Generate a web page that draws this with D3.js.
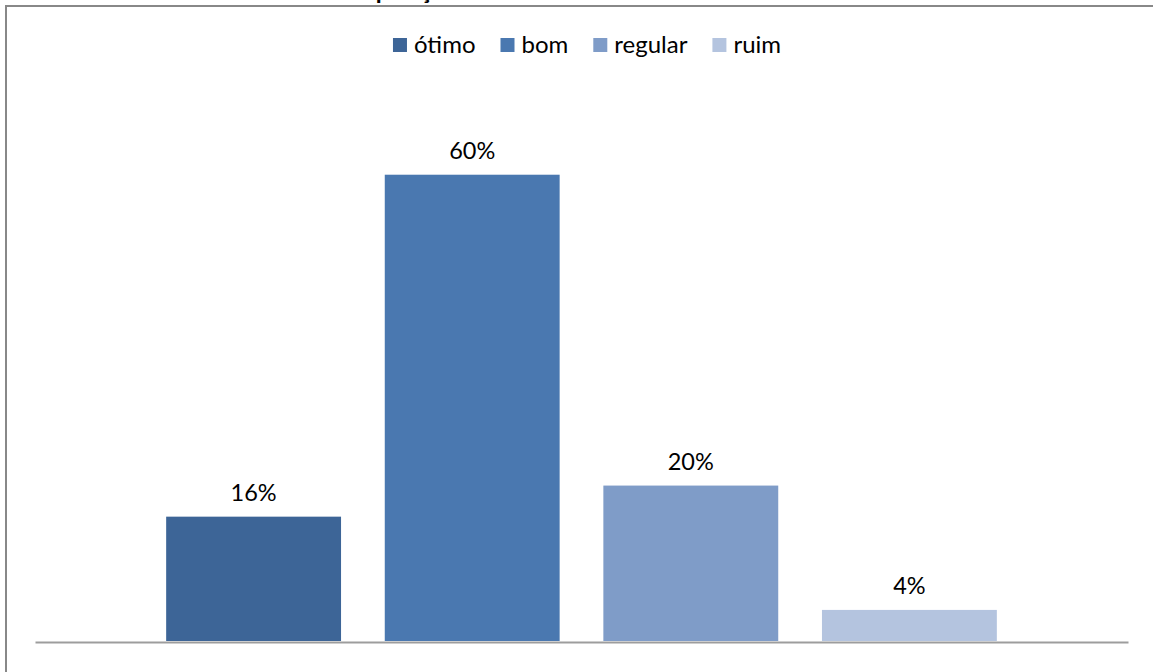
<!DOCTYPE html>
<html>
<head>
<meta charset="utf-8">
<script src="https://cdn.jsdelivr.net/npm/d3@7"></script>
<style>
  html, body { margin: 0; padding: 0; background: #fff; }
  svg { display: block; }
  text { font-family: Lato, "Open Sans", "Noto Sans", sans-serif; fill: #000; }
</style>
</head>
<body>
<svg id="chart" width="1153" height="672"></svg>
<script>
// Survey answers and their share of respondents
const categories = ["ótimo", "bom", "regular", "ruim"];
const shares = [0.16, 0.60, 0.20, 0.04];
const colors = ["#3d6597", "#4a78b0", "#7f9cc8", "#b4c4df"];
const titleLead = "Resultado da ";
const titleTail = "posição";

const W = 1153, H = 672;
const svg = d3.select("#chart");

// chart frame (left and top edges visible)
svg.append("path")
  .attr("d", `M6,${H} L6,6 L${W},6`)
  .attr("fill", "none")
  .attr("stroke", "#888")
  .attr("stroke-width", 2);

// title sits above the frame; only its descenders reach into view
const titleSize = 24;
const probe = svg.append("text")
  .attr("font-size", titleSize).attr("font-weight", "bold")
  .text(titleLead);
const leadW = probe.node().getComputedTextLength();
probe.remove();
svg.append("text")
  .attr("x", 370 - leadW)
  .attr("y", -1)
  .attr("font-size", titleSize)
  .attr("font-weight", "bold")
  .text(titleLead + titleTail);

const plot = { left: 35, right: 1128, top: 97, bottom: 641 };

const x = d3.scaleBand()
  .domain(categories)
  .range([plot.left, plot.right])
  .paddingInner(0.2)
  .paddingOuter(0.6);

const y = d3.scaleLinear()
  .domain([0, 0.7])
  .range([plot.bottom, plot.top]);

const color = d3.scaleOrdinal().domain(categories).range(colors);
const fmt = d3.format(".0%");

const data = categories.map((c, i) => ({ cat: c, v: shares[i] }));

// bars
svg.append("g")
  .selectAll("rect")
  .data(data)
  .join("rect")
  .attr("x", d => x(d.cat))
  .attr("y", d => y(d.v))
  .attr("width", x.bandwidth())
  .attr("height", d => y(0) - y(d.v))
  .attr("fill", d => color(d.cat));

// value labels
svg.append("g")
  .selectAll("text")
  .data(data)
  .join("text")
  .attr("x", d => x(d.cat) + x.bandwidth() / 2)
  .attr("y", d => y(d.v) - 16)
  .attr("text-anchor", "middle")
  .attr("font-size", 23.5)
  .text(d => fmt(d.v));

// category axis line (no ticks or labels)
const xAxis = d3.axisBottom(x).tickSize(0).tickFormat("");
const axisG = svg.append("g")
  .attr("transform", `translate(0,${plot.bottom + 1})`)
  .call(xAxis);
axisG.select(".domain")
  .attr("stroke", "#9d9d9d")
  .attr("stroke-width", 2.2);

// legend
const legend = svg.append("g");
const sw = 14, gapText = 7, gapItem = 25, fs = 24;
let cx = 0;
const items = legend.selectAll("g")
  .data(categories)
  .join("g");
items.append("rect")
  .attr("width", sw).attr("height", sw)
  .attr("y", -15)
  .attr("fill", d => color(d));
items.append("text")
  .attr("x", sw + gapText)
  .attr("y", 0)
  .attr("font-size", fs)
  .text(d => d);
items.each(function () {
  const g = d3.select(this);
  const tw = g.select("text").node().getComputedTextLength();
  g.attr("transform", `translate(${cx},0)`);
  cx += sw + gapText + tw + gapItem;
});
const legendW = cx - gapItem;
legend.attr("transform", `translate(${587 - legendW / 2},53)`);
</script>
</body>
</html>
